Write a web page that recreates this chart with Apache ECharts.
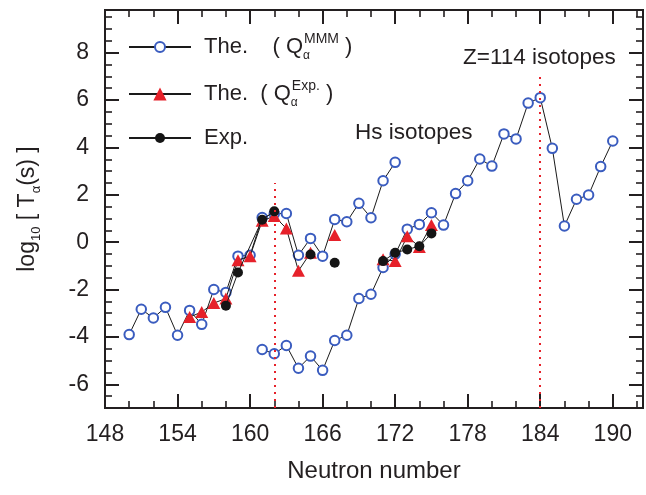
<!DOCTYPE html>
<html>
<head>
<meta charset="utf-8">
<script src="https://cdn.jsdelivr.net/npm/echarts@6/dist/echarts.min.js"></script>
<style>html,body{margin:0;padding:0;background:#fff}#c{width:646px;height:495px}</style>
</head>
<body>
<div id="c"></div>
<script>
// ---- data ----
// Theory with Q_alpha^MMM : Hs chain and Z=114 chain
const mmmHsN = [150,151,152,153,154,155,156,157,158,159,160,161,162,163,164,165,166,167,168,169,170,171,172];
const mmmHsV = [-3.9,-2.83,-3.2,-2.75,-3.93,-2.88,-3.47,-2.0,-2.12,-0.59,-0.55,1.04,1.2,1.21,-0.55,0.16,-0.59,0.96,0.86,1.64,1.03,2.59,3.37];
const mmm114N = [161,162,163,164,165,166,167,168,169,170,171,172,173,174,175,176,177,178,179,180,181,182,183,184,185,186,187,188,189,190];
const mmm114V = [-4.53,-4.71,-4.36,-5.32,-4.81,-5.41,-4.15,-3.93,-2.38,-2.2,-1.07,-0.51,0.55,0.75,1.24,0.72,2.05,2.59,3.51,3.21,4.57,4.36,5.87,6.1,3.96,0.68,1.81,1.99,3.19,4.27];
// Theory with experimental Q_alpha
const qexpHsN = [155,156,157,158,159,160,161,162,163,164,165,166,167];
const qexpHsV = [-3.16,-2.95,-2.57,-2.38,-0.76,-0.59,0.9,1.1,0.58,-1.21,-0.45,null,0.3];
const qexp114N = [171,172,173,174,175];
const qexp114V = [-0.72,-0.8,0.25,-0.2,0.72];
// Experiment
const expHsN = [158,159,161,162,163,165,166,167];
const expHsV = [-2.68,-1.28,0.95,1.3,null,-0.52,null,-0.87];
const exp114N = [171,172,173,174,175];
const exp114V = [-0.8,-0.45,-0.31,-0.17,0.37];
// Reference (closed shell) lines: N and top value
const refLineN = [162,184];
const refLineTop = [2.5,7.0];
// Axes
const xMin = 148, xMax = 192.5, yMin = -7, yMax = 9.8;
const xMajorTicks = [148,154,160,166,172,178,184,190];
const xMinorTicks = [150,152,156,158,162,164,168,170,174,176,180,182,186,188,192];
const yMajorTicks = [-6,-4,-2,0,2,4,6,8];
const yMinorTicks = [-6.5,-5.5,-5,-4.5,-3.5,-3,-2.5,-1.5,-1,-0.5,0.5,1,1.5,2.5,3,3.5,4.5,5,5.5,6.5,7,7.5,8.5,9,9.5];

// ---- styles ----
const FONT = '"Liberation Sans", Arial, Helvetica, sans-serif';
const INK = '#231f20';
const BLUE = '#3a5cbf';
const RED = '#e6212a';
const BLACK = '#151515';

const pairs = (ns, vs) => ns.map((n, i) => [n, vs[i] == null ? '-' : vs[i]]);

function xAx(pos, ticks, len, withLabels, withName) {
  const a = {
    type: 'value', position: pos, min: xMin, max: xMax,
    axisLine: { show: true, onZero: false, lineStyle: { color: INK, width: 2 } },
    axisTick: { show: true, inside: true, length: len, customValues: ticks, lineStyle: { color: INK, width: len > 8 ? 2 : 1.6 } },
    axisLabel: withLabels ? { show: true, customValues: xMajorTicks, color: INK, fontSize: 23, fontFamily: FONT, margin: 15 } : { show: false },
    splitLine: { show: false }
  };
  if (withName) {
    a.name = 'Neutron number';
    a.nameLocation = 'middle';
    a.nameGap = 51;
    a.nameTextStyle = { color: INK, fontSize: 24, fontFamily: FONT };
  }
  return a;
}
function yAx(pos, ticks, len, withLabels, withName) {
  const a = {
    type: 'value', position: pos, min: yMin, max: yMax,
    axisLine: { show: true, onZero: false, lineStyle: { color: INK, width: 2 } },
    axisTick: { show: true, inside: true, length: len, customValues: ticks, lineStyle: { color: INK, width: len > 8 ? 2 : 1.6 } },
    axisLabel: withLabels ? { show: true, customValues: yMajorTicks, color: INK, fontSize: 23, fontFamily: FONT, margin: 16 } : { show: false },
    splitLine: { show: false }
  };
  if (withName) {
    a.name = '{t|log}{s|10}{t| [ T}{s|α}{t|(s) ]}';
    a.nameLocation = 'middle';
    a.nameRotate = 90;
    a.nameGap = 62;
    a.nameTextStyle = {
      color: INK, fontFamily: FONT,
      rich: {
        t: { fontSize: 23, fontFamily: FONT, color: INK, lineHeight: 30, verticalAlign: 'middle' },
        s: { fontSize: 13, fontFamily: FONT, color: INK, lineHeight: 14, verticalAlign: 'bottom' }
      }
    };
  }
  return a;
}

const legendRich = {
  g: { width: 8, fontSize: 22 },
  t: { fontSize: 22, fontFamily: FONT, color: INK, lineHeight: 30, verticalAlign: 'middle' },
  s: { fontSize: 12, fontFamily: FONT, color: INK, lineHeight: 12, verticalAlign: 'bottom', width: 1 },
  p: { fontSize: 14, fontFamily: FONT, color: INK, lineHeight: 14, verticalAlign: 'top' }
};
function legendAt(name, top, itemH, text) {
  return {
    data: [name], left: 128, top: top, padding: 0, orient: 'vertical',
    itemWidth: 62, itemHeight: itemH, selectedMode: false,
    formatter: () => text,
    textStyle: { rich: legendRich, fontFamily: FONT, fontSize: 22, color: INK }
  };
}

const lineSeries = (name, data, sym, size, color, extra) => Object.assign({
  name: name, type: 'line', data: data, symbol: sym, symbolSize: size,
  xAxisIndex: 0, yAxisIndex: 0,
  itemStyle: { color: color, borderWidth: sym === 'emptyCircle' ? 1.3 : 0 },
  lineStyle: { color: '#1a1a1a', width: 1 },
  connectNulls: false, animation: false, clip: true
}, extra || {});

const chart = echarts.init(document.getElementById('c'), null, { renderer: 'canvas' });
chart.setOption({
  backgroundColor: '#fff',
  animation: false,
  grid: { left: 105, right: 3, top: 10, bottom: 87, containLabel: false },
  xAxis: [
    xAx('bottom', xMajorTicks, 14, true, true),
    xAx('bottom', xMinorTicks, 7, false, false),
    xAx('top', xMajorTicks, 14, false, false),
    xAx('top', xMinorTicks, 7, false, false)
  ],
  yAxis: [
    yAx('left', yMajorTicks, 14, true, true),
    yAx('left', yMinorTicks, 7, false, false),
    yAx('right', yMajorTicks, 14, false, false),
    yAx('right', yMinorTicks, 7, false, false)
  ],
  legend: [
    legendAt('mmm', 32, 12.5, '{g| }{t|The.    ( Q}{s|α}{p|MMM}{t| )}'),
    legendAt('qexp', 79, 16.5, '{g| }{t|The.  ( Q}{s|α}{p|Exp.}{t| )}'),
    legendAt('exp', 127, 12.5, '{g| }{t|Exp.}')
  ],
  graphic: [
    { type: 'text', left: 355, top: 121, style: { text: 'Hs isotopes', font: '22.5px ' + FONT, fill: INK } },
    { type: 'text', left: 463, top: 46, style: { text: 'Z=114 isotopes', font: '22.5px ' + FONT, fill: INK } }
  ],
  series: [
    lineSeries('mmm', pairs(mmmHsN, mmmHsV), 'emptyCircle', 9.5, BLUE, { z: 2 }),
    lineSeries('mmm', pairs(mmm114N, mmm114V), 'emptyCircle', 9.5, BLUE, { z: 2 }),
    lineSeries('qexp', pairs(qexpHsN, qexpHsV), 'triangle', [13, 12], RED, { z: 3 }),
    lineSeries('qexp', pairs(qexp114N, qexp114V), 'triangle', [13, 12], RED, { z: 3 }),
    lineSeries('exp', pairs(expHsN, expHsV), 'circle', 10, BLACK, {
      z: 4,
      markLine: {
        silent: true, symbol: 'none', label: { show: false },
        lineStyle: { color: RED, type: [2, 5], width: 2 },
        data: refLineN.map((n, i) => [{ coord: [n, yMin] }, { coord: [n, refLineTop[i]] }])
      }
    }),
    lineSeries('exp', pairs(exp114N, exp114V), 'circle', 10, BLACK, { z: 4 })
  ]
});
</script>
</body>
</html>
